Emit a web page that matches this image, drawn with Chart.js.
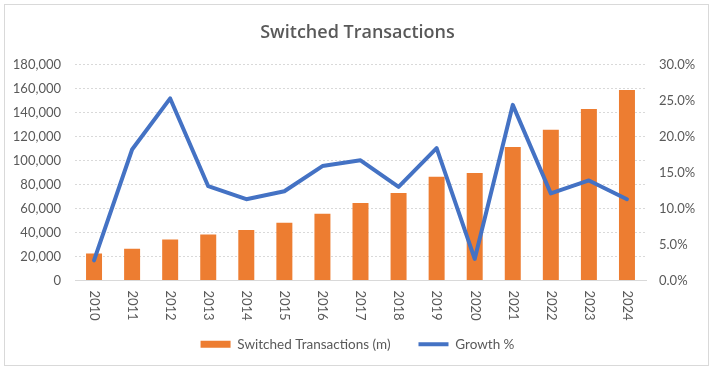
<!DOCTYPE html>
<html>
<head>
<meta charset="utf-8">
<script src="https://cdn.jsdelivr.net/npm/chart.js@4"></script>
<style>
  html, body { margin: 0; padding: 0; background: #fff; }
  #wrap { width: 715px; height: 372px; }
</style>
</head>
<body>
<div id="wrap"><canvas id="myChart" width="715" height="372"></canvas></div>
<script>
// data
const years = ['2010','2011','2012','2013','2014','2015','2016','2017','2018','2019','2020','2021','2022','2023','2024'];
const transactions = [22500, 26400, 34200, 38300, 42200, 48100, 55600, 64700, 73000, 86400, 89700, 111400, 125600, 143000, 158900];
const growth = [2.8, 18.2, 25.3, 13.1, 11.3, 12.4, 15.9, 16.7, 13.0, 18.4, 3.0, 24.4, 12.1, 13.9, 11.3];

const grey = '#595959';
const fontFamily = 'Lato, "Liberation Sans", sans-serif';

// frame round the whole chart
const frame = {
    id: 'frame',
    beforeDraw(chart) {
        const ctx = chart.ctx;
        ctx.save();
        ctx.fillStyle = '#fff';
        ctx.fillRect(0, 0, chart.width, chart.height);
        ctx.strokeStyle = '#d9d9d9';
        ctx.lineWidth = 1;
        ctx.strokeRect(4.5, 4.5, 704, 361);
        ctx.restore();
    }
};

// x labels turned clockwise (read top to bottom)
const xLabels = {
    id: 'xLabels',
    afterDraw(chart) {
        const x = chart.scales.x;
        const ctx = chart.ctx;
        ctx.save();
        ctx.fillStyle = grey;
        ctx.font = '13px ' + fontFamily;
        ctx.textAlign = 'left';
        ctx.textBaseline = 'middle';
        years.forEach((y, i) => {
            ctx.save();
            ctx.translate(x.getPixelForTick(i), x.top + 10);
            ctx.rotate(Math.PI / 2);
            ctx.fillText(y, 0, 0);
            ctx.restore();
        });
        ctx.restore();
    }
};

new Chart(document.getElementById('myChart'), {
    type: 'bar',
    data: {
        labels: years,
        datasets: [{
            label: 'Switched Transactions (m)',
            data: transactions,
            backgroundColor: '#ED7D31',
            borderWidth: 0,
            barPercentage: 0.42,
            categoryPercentage: 1,
            pointStyle: 'rect',
            yAxisID: 'y',
            order: 2
        }, {
            type: 'line',
            label: 'Growth %',
            data: growth,
            borderColor: '#4472C4',
            backgroundColor: '#4472C4',
            borderWidth: 4,
            borderJoinStyle: 'round',
            borderCapStyle: 'round',
            pointRadius: 0,
            pointHoverRadius: 0,
            pointStyle: 'line',
            tension: 0,
            yAxisID: 'y1',
            order: 1
        }]
    },
    options: {
        responsive: false,
        animation: false,
        devicePixelRatio: 1,
        layout: { padding: { left: 0, right: 0, top: 0, bottom: 11 } },
        plugins: {
            title: {
                display: true,
                text: 'Switched Transactions',
                color: grey,
                font: { family: '"Open Sans", sans-serif', size: 18, weight: '600' },
                padding: { top: 22, bottom: 21 }
            },
            legend: {
                position: 'bottom',
                labels: {
                    usePointStyle: true,
                    pointStyleWidth: 30,
                    boxHeight: 7,
                    padding: 28,
                    color: grey,
                    font: { family: fontFamily, size: 13.5 },
                    sort: (a, b) => a.datasetIndex - b.datasetIndex
                }
            },
            tooltip: { enabled: false }
        },
        scales: {
            x: {
                grid: { display: false },
                border: { display: true, color: '#d9d9d9' },
                ticks: { display: false },
                afterFit: s => { s.height = 29; }
            },
            y: {
                position: 'left',
                min: 0,
                max: 180000,
                afterFit: s => { s.width = 75; },
                ticks: {
                    stepSize: 20000,
                    color: grey,
                    padding: 14,
                    font: { family: fontFamily, size: 13 },
                    callback: v => v.toLocaleString('en-US')
                },
                grid: { color: '#d9d9d9', drawTicks: false },
                border: { display: false, dash: [2, 2] }
            },
            y1: {
                position: 'right',
                min: 0,
                max: 30,
                afterFit: s => { s.width = 69; },
                ticks: {
                    stepSize: 5,
                    color: grey,
                    padding: 13,
                    font: { family: fontFamily, size: 13 },
                    callback: v => v.toFixed(1) + '%'
                },
                grid: { display: false, drawTicks: false },
                border: { display: false }
            }
        }
    },
    plugins: [frame, xLabels]
});
</script>
</body>
</html>
